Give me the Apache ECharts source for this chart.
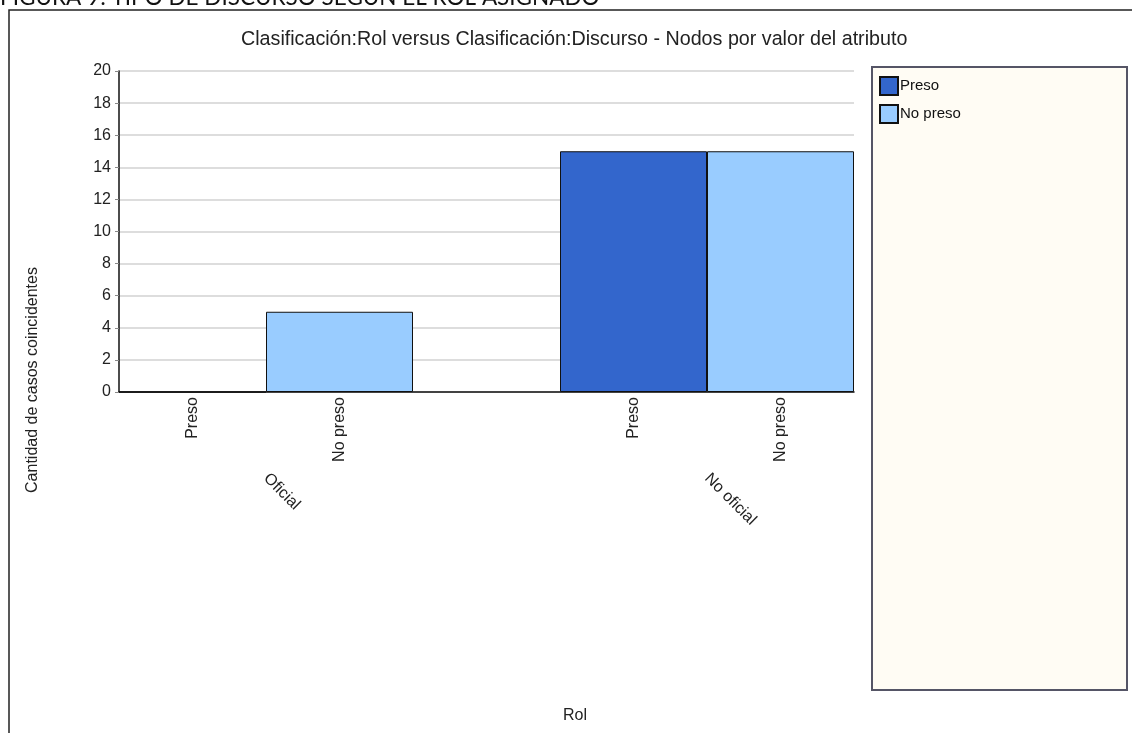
<!DOCTYPE html>
<html>
<head>
<meta charset="utf-8">
<script src="https://cdn.jsdelivr.net/npm/echarts@6/dist/echarts.min.js"></script>
<style>html,body{margin:0;padding:0;background:#fff;}#c{width:1132px;height:733px;}</style>
</head>
<body>
<div id="c"></div>
<script>
const heading = 'FIGURA 9: TIPO DE DISCURSO SEGÚN EL ROL ASIGNADO';
const chartTitle = 'Clasificación:Rol versus Clasificación:Discurso - Nodos por valor del atributo';
const yAxisTitle = 'Cantidad de casos coincidentes';
const xAxisTitle = 'Rol';
const roles = ['Oficial', 'No oficial'];
const discourses = ['Preso', 'No preso'];
const presoValues = [0, 15];
const noPresoValues = [5, 15];
const seriesValues = [presoValues, noPresoValues];
const seriesColors = ['#3366CC', '#99CCFF'];

// Build slot categories: discourses per role, with an empty gap slot between roles
const slots = [];
roles.forEach((r, i) => {
  discourses.forEach(d => slots.push(d));
  if (i < roles.length - 1) slots.push('');
});
const step = discourses.length + 1;
const series = discourses.map((d, j) => {
  const data = slots.map(() => '-');
  roles.forEach((r, i) => { data[i * step + j] = seriesValues[j][i]; });
  return {
    name: d,
    type: 'bar',
    stack: 'all',
    barCategoryGap: '0%',
    data: data,
    itemStyle: { color: seriesColors[j], borderColor: '#111', borderWidth: 1 }
  };
});

const chart = echarts.init(document.getElementById('c'));
const font = '"Liberation Sans", Arial, sans-serif';
chart.setOption({
  animation: false,
  backgroundColor: '#fff',
  textStyle: { fontFamily: font },
  title: {
    text: chartTitle, left: 236, top: 25,
    textStyle: { fontFamily: font, fontSize: 19.7, fontWeight: 'normal', color: '#222' }
  },
  legend: {
    orient: 'vertical', left: 879, top: 76, itemWidth: 18, itemHeight: 18, itemGap: 8,
    icon: 'rect', padding: 0, z: 10,
    textStyle: { fontFamily: font, fontSize: 15, color: '#111', padding: [0, 0, 0, -3] },
    data: discourses
  },
  grid: { left: 119, right: 278, top: 71, bottom: 341, containLabel: false },
  xAxis: [
    {
      type: 'category', data: slots,
      axisLine: { lineStyle: { color: '#111', width: 1.5 } },
      axisTick: { show: false },
      axisLabel: { rotate: 90, interval: 0, margin: 5, fontSize: 16, color: '#222', fontFamily: font }
    },
    {
      type: 'value', min: 0, max: slots.length, interval: 1, position: 'bottom',
      axisLine: { show: false }, axisTick: { show: false }, splitLine: { show: false },
      axisLabel: {
        rotate: -45, margin: 84, fontSize: 16, color: '#222', fontFamily: font,
        showMinLabel: true, showMaxLabel: true,
        formatter: function (v) {
          for (let i = 0; i < roles.length; i++) {
            if (Math.abs(i * step + discourses.length / 2 - v) < 1e-6) return roles[i];
          }
          return '';
        }
      }
    }
  ],
  yAxis: {
    type: 'value', min: 0, max: 20, interval: 2,
    axisLine: { show: true, lineStyle: { color: '#111', width: 1.5 } },
    axisTick: { show: true, length: 4, lineStyle: { color: '#888' } },
    axisLabel: { fontSize: 16, color: '#222', margin: 8, fontFamily: font },
    splitLine: { lineStyle: { color: '#d2d2d2', width: 1.5 } }
  },
  graphic: [
    { type: 'rect', z: 0, shape: { x: 9, y: 10, width: 1130, height: 730 },
      style: { fill: 'none', stroke: '#222', lineWidth: 1.5 } },
    { type: 'rect', z: 1, shape: { x: 872, y: 67, width: 255, height: 623 },
      style: { fill: '#FFFCF4', stroke: '#555566', lineWidth: 2 } },
    { type: 'text', z: 2, x: 0, y: 9,
      style: { text: heading, fontFamily: 'Lato, "Open Sans", sans-serif', fontSize: 22.5, fill: '#111',
        textAlign: 'left', textVerticalAlign: 'bottom' } },
    { type: 'text', z: 2, x: 33, y: 380, rotation: Math.PI / 2,
      style: { text: yAxisTitle, fontFamily: font, fontSize: 16, fill: '#222',
        textAlign: 'center', textVerticalAlign: 'middle' } },
    { type: 'text', z: 2, x: 575, y: 716,
      style: { text: xAxisTitle, fontFamily: font, fontSize: 16, fill: '#222',
        textAlign: 'center', textVerticalAlign: 'middle' } }
  ],
  series: series
});
</script>
</body>
</html>
